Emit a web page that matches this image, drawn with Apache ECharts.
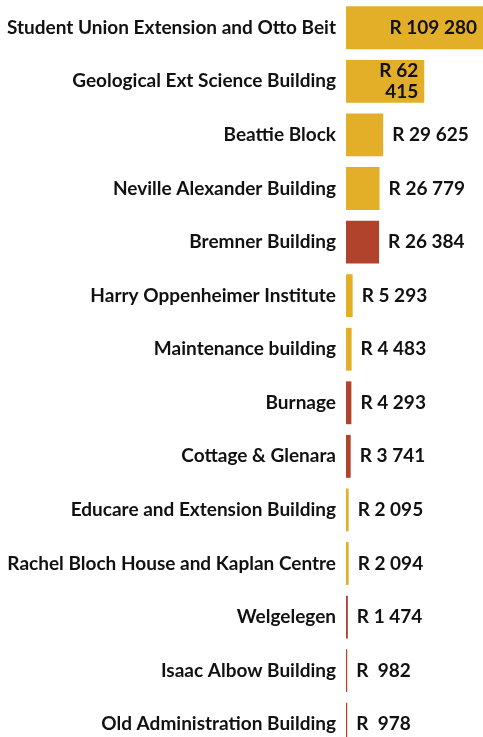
<!DOCTYPE html>
<html>
<head>
<meta charset="utf-8" />
<title>Buildings</title>
<script src="https://cdn.jsdelivr.net/npm/echarts@6/dist/echarts.min.js"></script>
<style>
html, body { margin: 0; padding: 0; background: #fff; }
#chart { width: 483px; height: 737px; }
</style>
</head>
<body>
<div id="chart"></div>
<script type="text/javascript">
// categories, top to bottom
var buildings = ['Student Union Extension and Otto Beit', 'Geological Ext Science Building', 'Beattie Block',
	'Neville Alexander Building', 'Bremner Building', 'Harry Oppenheimer Institute', 'Maintenance building',
	'Burnage', 'Cottage & Glenara', 'Educare and Extension Building', 'Rachel Bloch House and Kaplan Centre',
	'Welgelegen', 'Isaac Albow Building', 'Old Administration Building'];
// amounts in rand
var amounts = [109280, 62415, 29625, 26779, 26384, 5293, 4483, 4293, 3741, 2095, 2094, 1474, 982, 978];
// 'g' gold, 'r' red
var groups = ['g', 'g', 'g', 'g', 'r', 'g', 'g', 'r', 'r', 'g', 'g', 'r', 'r', 'r'];

var gold = '#E3AE28', red = '#B1432D';

// R 109 280 style, thousands padded like the source
function fmt(v) {
	var s = String(v);
	var head = s.length > 3 ? s.slice(0, s.length - 3) : '';
	var tail = s.slice(-3);
	return 'R ' + (head ? head + ' ' : ' ') + tail;
}

var maxVal = amounts[0];
var data = amounts.map(function (v, i) {
	var item = { value: v, itemStyle: { color: groups[i] == 'r' ? red : gold } };
	if (v > 50000) {
		// big bars carry their label inside; narrow ones wrap to two lines
		var narrow = v / maxVal < 0.7;
		item.label = {
			position: 'insideRight',
			distance: 6,
			align: 'right',
			lineHeight: 21,
			formatter: function (p) {
				var t = fmt(p.value);
				if (narrow) {
					var k = t.lastIndexOf(' ');
					t = t.slice(0, k) + '\n' + t.slice(k + 1);
				}
				return t;
			}
		};
	}
	return item;
});

var myChart = echarts.init(document.getElementById('chart'));
myChart.setOption({
	animation: false,
	grid: { left: 346, right: 0, top: 1, height: 750, outerBoundsMode: 'none', containLabel: false },
	xAxis: {
		type: 'value', min: 0, max: maxVal, show: false
	},
	yAxis: {
		type: 'category', inverse: true, data: buildings,
		axisLine: { show: false }, axisTick: { show: false },
		axisLabel: {
			margin: 10, color: '#111', fontFamily: 'Lato', fontWeight: 'bold', fontSize: 19
		}
	},
	series: [{
		type: 'bar',
		data: data,
		barCategoryGap: '20%',
		label: {
			show: true, position: 'right', distance: 9,
			color: '#111', fontFamily: 'Lato', fontWeight: 'bold', fontSize: 19,
			formatter: function (p) { return fmt(p.value); }
		}
	}]
});
</script>
</body>
</html>
